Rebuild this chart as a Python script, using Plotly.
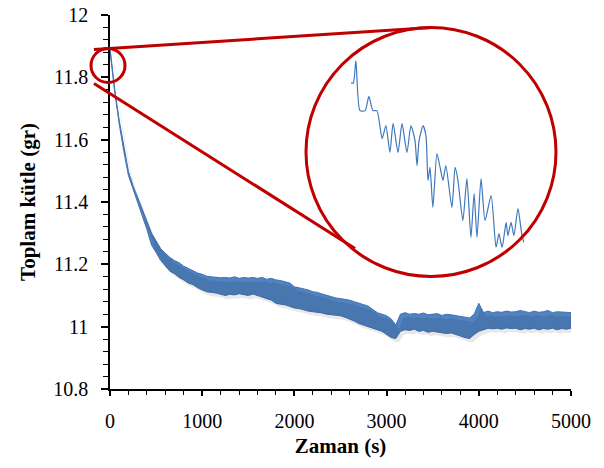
import plotly.graph_objects as go

# ---------------- data ----------------
time_s = list(range(0, 5001, 50))
mass_lo = [
    11.885, 11.755, 11.650, 11.562, 11.485, 11.438, 11.398, 11.355, 11.312, 11.262,
    11.238, 11.212, 11.195, 11.178, 11.170, 11.158, 11.150, 11.140, 11.135, 11.125,
    11.118, 11.112, 11.110, 11.108, 11.105, 11.100, 11.104, 11.102, 11.106, 11.103,
    11.100, 11.105, 11.098, 11.095, 11.090, 11.085, 11.075, 11.072, 11.070, 11.065,
    11.060, 11.058, 11.055, 11.050, 11.048, 11.045, 11.044, 11.040, 11.038, 11.036,
    11.035, 11.030, 11.025, 11.018, 11.010, 11.005, 11.000, 10.995, 10.990, 10.985,
    10.975, 10.965, 10.962, 10.985, 10.990, 10.988, 10.992, 10.985, 10.988, 10.982,
    10.985, 10.984, 10.980, 10.978, 10.980, 10.975, 10.970, 10.965, 10.962, 10.975,
    10.985, 10.990, 10.995, 10.993, 10.995, 10.992, 10.996, 10.994, 10.995, 10.990,
    10.994, 10.992, 10.995, 10.990, 10.994, 10.992, 10.995, 10.990, 10.994, 10.992,
    10.995,
]
mass_hi = [
    11.895, 11.765, 11.662, 11.575, 11.498, 11.452, 11.415, 11.378, 11.340, 11.300,
    11.275, 11.250, 11.236, 11.222, 11.212, 11.205, 11.194, 11.186, 11.180, 11.172,
    11.168, 11.162, 11.160, 11.158, 11.157, 11.158, 11.156, 11.160, 11.155, 11.158,
    11.156, 11.158, 11.155, 11.158, 11.152, 11.155, 11.150, 11.148, 11.145, 11.140,
    11.128, 11.125, 11.122, 11.118, 11.112, 11.110, 11.105, 11.100, 11.095, 11.092,
    11.090, 11.088, 11.085, 11.080, 11.076, 11.072, 11.066, 11.055, 11.045, 11.040,
    11.035, 11.025, 11.005, 11.040, 11.045, 11.040, 11.042, 11.040, 11.044, 11.038,
    11.040, 11.042, 11.036, 11.040, 11.038, 11.035, 11.032, 11.030, 11.028, 11.040,
    11.075, 11.045, 11.050, 11.045, 11.048, 11.046, 11.050, 11.047, 11.048, 11.052,
    11.048, 11.045, 11.050, 11.046, 11.048, 11.052, 11.045, 11.048, 11.047, 11.046,
    11.045,
]

# zoomed detail of the first minute (inset)
inset_t = [0.0, 0.8, 1.7, 3.1, 4.9, 6.2, 7.6, 9.0, 10.8, 12.1, 13.5, 14.6, 16.3, 17.7,
           19.4, 20.8, 22.2, 22.9, 23.6, 25.0, 26.0, 26.7, 27.4, 28.4, 29.8, 30.9,
           31.9, 32.9, 35.0, 36.1, 37.1, 38.8, 40.2, 41.6, 42.7, 43.7, 45.1, 46.5,
           48.6, 50.3, 51.3, 52.4, 53.8, 54.4, 55.5, 56.5, 57.9, 59.3, 60.0]
inset_m = [11.879, 11.879, 11.885, 11.8716, 11.8716, 11.8754, 11.8716, 11.8716, 11.8641,
           11.8676, 11.8604, 11.8682, 11.8604, 11.8682, 11.8604, 11.8676, 11.8636,
           11.8569, 11.8636, 11.8676, 11.8649, 11.8529, 11.8564, 11.8457, 11.8601,
           11.8564, 11.8529, 11.8569, 11.8457, 11.8564, 11.8529, 11.8422, 11.8534,
           11.8377, 11.8494, 11.8377, 11.8534, 11.8422, 11.8489, 11.835, 11.8387,
           11.835, 11.8417, 11.8382, 11.8417, 11.8382, 11.8454, 11.8382, 11.8363]

x_ticks = [0, 1000, 2000, 3000, 4000, 5000]
y_ticks = [10.8, 11.0, 11.2, 11.4, 11.6, 11.8, 12.0]
X_RANGE = [0, 5000]
Y_RANGE = [10.8, 12.0]

# ---------------- band outline (upper edge forward, lower edge back) ----------------
band_x = time_s + time_s[::-1]
band_y = mass_hi + mass_lo[::-1]

BLUE = "#5083c2"
EDGE = "#4272b4"
RED = "#c00000"
FONT = "Liberation Serif"

W, H = 604, 468
PX0, PX1 = 110, 571       # x of plot area
PY0, PY1 = 14.7, 388.5    # y of plot area
L, T = PX0, round(PY0)
R = W - L - (PX1 - PX0)
B = H - T - round(PY1 - PY0)
pw, ph = W - L - R, H - T - B


def px_x(p):
    return (p - PX0) / pw


def px_y(p):
    return (PY1 - p) / ph


# shadow offset (pixels right / down) expressed as shifted axis ranges
SH_DX, SH_DY = 3, 4
sx = (X_RANGE[1] - X_RANGE[0]) * SH_DX / pw
sy = (Y_RANGE[1] - Y_RANGE[0]) * SH_DY / ph

fig = go.Figure()
fig.add_trace(go.Scatter(x=band_x, y=band_y, mode="lines", fill="toself",
                         xaxis="x3", yaxis="y3",
                         fillcolor="rgba(0,0,0,0.09)", line=dict(width=0),
                         hoverinfo="skip", showlegend=False))
fig.add_trace(go.Scatter(x=band_x, y=band_y, mode="lines", fill="toself",
                         fillcolor=BLUE, line=dict(color=EDGE, width=1),
                         hoverinfo="skip", showlegend=False))
fig.add_trace(go.Scatter(x=inset_t, y=inset_m, mode="lines", xaxis="x2", yaxis="y2",
                         line=dict(color="#3f78bd", width=1.2, shape="spline",
                                   smoothing=0.6),
                         hoverinfo="skip", showlegend=False))

fig.update_layout(
    width=W, height=H,
    margin=dict(l=L, r=R, t=T, b=B, autoexpand=False),
    paper_bgcolor="white", plot_bgcolor="rgba(0,0,0,0)",
    font=dict(family=FONT, size=20, color="black"),
    xaxis=dict(range=X_RANGE, tickvals=x_ticks, showgrid=False, zeroline=False,
               showline=True, linecolor="black", linewidth=1.5, automargin=False,
               ticks="outside", ticklen=5, tickwidth=1.5, tickcolor="black",
               minor=dict(dtick=200, ticks="outside", ticklen=4, tickwidth=1.2,
                          tickcolor="black"),
               ticklabelstandoff=8, ticklabeloverflow="allow",
               title=dict(text="<b>Zaman (s)</b>", font=dict(size=21), standoff=8)),
    yaxis=dict(range=Y_RANGE, tickvals=y_ticks, showgrid=False, zeroline=False,
               showline=True, linecolor="black", linewidth=1.5, automargin=False,
               ticks="outside", ticklen=7, tickwidth=1.5, tickcolor="black",
               minor=dict(dtick=0.04, ticks="outside", ticklen=5, tickwidth=1.2,
                          tickcolor="black"),
               ticklabelstandoff=9, ticklabeloverflow="allow",
               title=dict(text="<b>Toplam kütle (gr)</b>", font=dict(size=21),
                          standoff=12)),
    xaxis2=dict(domain=[px_x(351), px_x(524)], range=[0, 60], visible=False,
                anchor="y2", fixedrange=True),
    yaxis2=dict(domain=[px_y(247), px_y(60)], range=[11.835, 11.885], visible=False,
                anchor="x2", fixedrange=True),
    xaxis3=dict(domain=[0, 1], range=[X_RANGE[0] - sx, X_RANGE[1] - sx],
                visible=False, anchor="y3", fixedrange=True),
    yaxis3=dict(domain=[0, 1], range=[Y_RANGE[0] + sy, Y_RANGE[1] + sy],
                visible=False, anchor="x3", fixedrange=True),
    shapes=[
        dict(type="line", xref="paper", yref="paper",
             x0=px_x(94), y0=px_y(49), x1=px_x(432), y1=px_y(27),
             line=dict(color=RED, width=3)),
        dict(type="line", xref="paper", yref="paper",
             x0=px_x(94), y0=px_y(83), x1=px_x(355), y1=px_y(248),
             line=dict(color=RED, width=3)),
        dict(type="circle", xref="paper", yref="paper",
             x0=px_x(91), x1=px_x(125), y0=px_y(82), y1=px_y(48),
             line=dict(color=RED, width=3)),
        dict(type="circle", xref="paper", yref="paper",
             x0=px_x(306), x1=px_x(556), y0=px_y(276), y1=px_y(27),
             line=dict(color=RED, width=3)),
    ],
)

# remove the browser's default 8 px page margin so the figure fills the window
fig.write_html("out.html",
               config={"displayModeBar": False},
               post_script="document.body.style.margin='0px';"
                           "document.body.style.overflow='hidden';")
